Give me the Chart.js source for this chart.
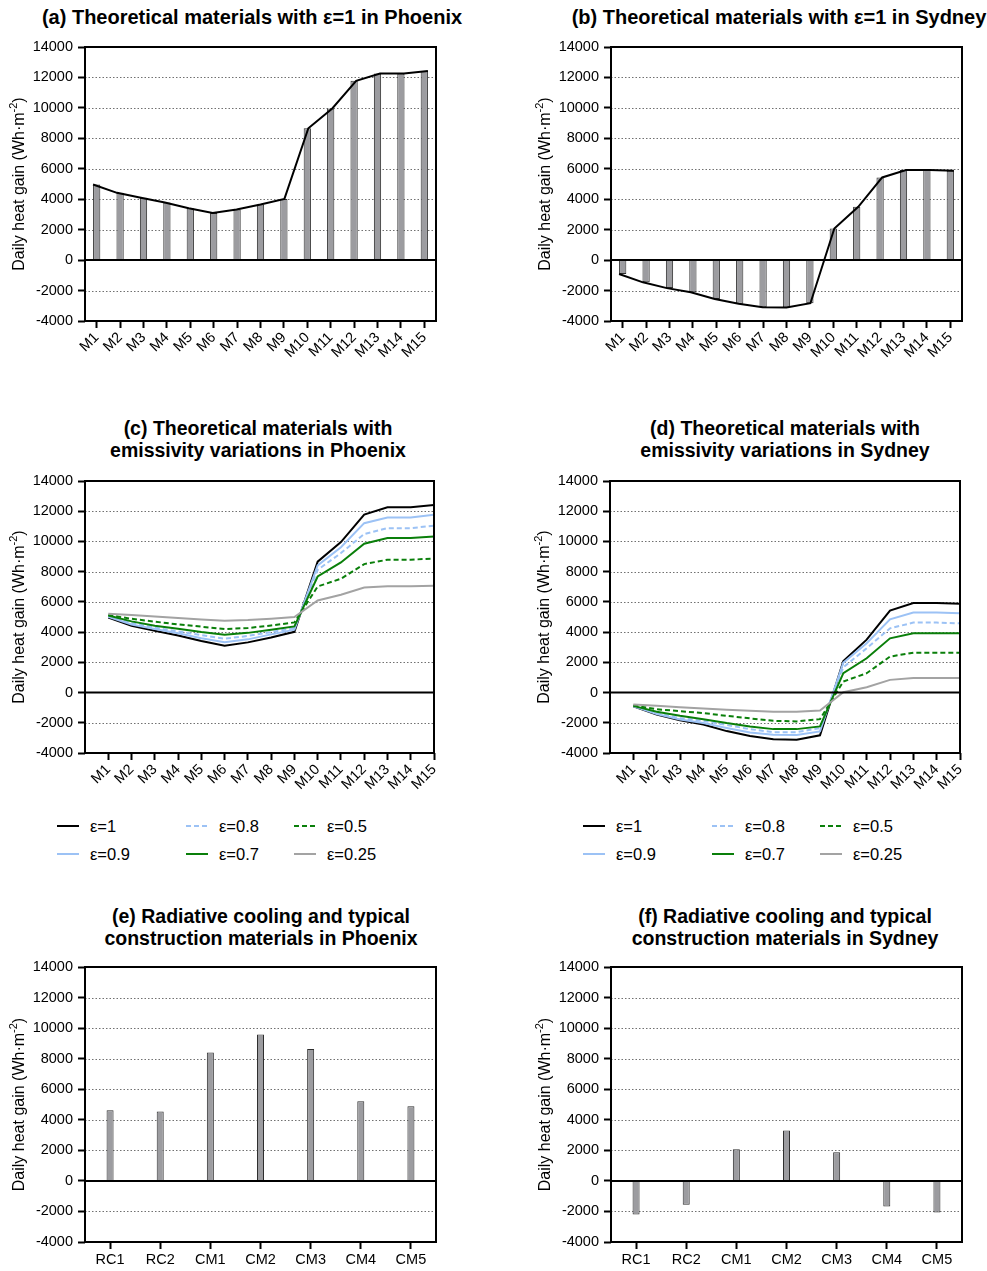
<!DOCTYPE html>
<html>
<head>
<meta charset="utf-8">
<script src="https://cdn.jsdelivr.net/npm/chart.js@4.4.1/dist/chart.umd.min.js"></script>
<style>
  body { margin: 0; background: #fff; }
  #page { position: relative; width: 987px; height: 1271px; overflow: hidden;
          font-family: "Liberation Sans", Arial, Helvetica, sans-serif; color: #000; }
  .title { position: absolute; font-weight: bold; font-size: 19.5px; line-height: 22px;
           text-align: center; white-space: nowrap; transform: translateX(-50%); }
  .title.big { font-size: 20px; }
  canvas { position: absolute; }
  .legend-item { position: absolute; display: flex; align-items: center; white-space: nowrap;
                 font-size: 16.5px; height: 18px; }
  .legend-item svg { margin-right: 11px; }
</style>
</head>
<body>
<div id="page">
  <div class="title big" style="left:252px; top:6px;">(a) Theoretical materials with ε=1 in Phoenix</div>
  <div class="title big" style="left:779px; top:6px;">(b) Theoretical materials with ε=1 in Sydney</div>
  <div class="title" style="left:258px; top:417px;">(c) Theoretical materials with<br>emissivity variations in Phoenix</div>
  <div class="title" style="left:785px; top:417px;">(d) Theoretical materials with<br>emissivity variations in Sydney</div>
  <div class="title" style="left:261px; top:905px;">(e) Radiative cooling and typical<br>construction materials in Phoenix</div>
  <div class="title" style="left:785px; top:905px;">(f) Radiative cooling and typical<br>construction materials in Sydney</div>

  <canvas id="chartA" width="470" height="335" style="left:0px; top:35px;"></canvas>
  <canvas id="chartB" width="461" height="335" style="left:526px; top:35px;"></canvas>
  <canvas id="chartC" width="470" height="331" style="left:0px; top:469px;"></canvas>
  <canvas id="chartD" width="462" height="331" style="left:525px; top:469px;"></canvas>
  <canvas id="chartE" width="470" height="316" style="left:0px; top:955px;"></canvas>
  <canvas id="chartF" width="461" height="316" style="left:526px; top:955px;"></canvas>

  <div id="legendC"></div>
  <div id="legendD"></div>
</div>

<script>
// ---- categories and tick values ----
const months = ['M1','M2','M3','M4','M5','M6','M7','M8','M9','M10','M11','M12','M13','M14','M15'];
const materials = ['RC1','RC2','CM1','CM2','CM3','CM4','CM5'];
const yTickValues = [-4000, -2000, 0, 2000, 4000, 6000, 8000, 10000, 12000, 14000];
const emissivityLabels = ['ε=1', 'ε=0.9', 'ε=0.8', 'ε=0.7', 'ε=0.5', 'ε=0.25'];

// ---- daily heat gain, Phoenix (Wh·m-2) ----
const phoenixE100 = [4970, 4420, 4090, 3780, 3410, 3100, 3320, 3650, 4020, 8660, 9960, 11780, 12260, 12260, 12420];
const phoenixE090 = [5020, 4500, 4200, 3920, 3600, 3330, 3520, 3850, 4160, 8410, 9620, 11210, 11590, 11590, 11770];
const phoenixE080 = [5050, 4600, 4300, 4050, 3800, 3560, 3750, 4000, 4270, 8120, 9230, 10490, 10880, 10880, 11040];
const phoenixE070 = [5100, 4710, 4420, 4220, 4000, 3820, 3950, 4150, 4380, 7680, 8610, 9850, 10220, 10220, 10330];
const phoenixE050 = [5130, 4880, 4690, 4510, 4360, 4200, 4270, 4440, 4640, 7020, 7530, 8500, 8790, 8790, 8870];
const phoenixE025 = [5220, 5130, 5040, 4930, 4840, 4760, 4800, 4890, 5000, 6090, 6470, 6950, 7040, 7040, 7060];

// ---- daily heat gain, Sydney (Wh·m-2) ----
const sydneyE100 = [-910, -1460, -1840, -2110, -2550, -2870, -3090, -3120, -2830, 2080, 3500, 5430, 5920, 5920, 5870];
const sydneyE090 = [-900, -1420, -1780, -2010, -2340, -2640, -2790, -2810, -2570, 1980, 3260, 4850, 5290, 5290, 5240];
const sydneyE080 = [-890, -1360, -1690, -1870, -2150, -2420, -2620, -2620, -2350, 1670, 2930, 4250, 4630, 4630, 4580];
const sydneyE070 = [-880, -1270, -1540, -1760, -2020, -2240, -2420, -2420, -2240, 1280, 2270, 3590, 3920, 3920, 3920];
const sydneyE050 = [-860, -1100, -1230, -1360, -1540, -1710, -1870, -1910, -1760, 730, 1280, 2380, 2640, 2640, 2640];
const sydneyE025 = [-790, -880, -970, -1050, -1140, -1210, -1270, -1270, -1190, 20, 350, 840, 970, 970, 970];

// ---- radiative cooling and construction materials ----
const phoenixMaterials = [4620, 4550, 8400, 9580, 8640, 5210, 4880];
const sydneyMaterials = [-2200, -1560, 2070, 3300, 1870, -1670, -2070];

// ---- styling ----
const FONT = '"Liberation Sans", Arial, Helvetica, sans-serif';
Chart.defaults.font.family = FONT;
Chart.defaults.font.size = 14.5;
Chart.defaults.color = '#000';

const seriesStyles = [
  { color: '#000000', dash: [] },
  { color: '#9cc2f5', dash: [] },
  { color: '#9cc2f5', dash: [5, 3] },
  { color: '#0a7f0a', dash: [] },
  { color: '#0a7f0a', dash: [5, 3] },
  { color: '#a3a3a3', dash: [] }
];
const BAR_FILL = '#9c9ca0';
const BAR_EDGE = '#2e2e2e';

// dotted grid, solid zero line and box frame around the plot area
const framePlugin = {
  id: 'frame',
  beforeDatasetsDraw(chart) {
    const { ctx, chartArea: a, scales: { y } } = chart;
    ctx.save();
    ctx.strokeStyle = '#707070';
    ctx.lineWidth = 1;
    ctx.setLineDash([1.5, 2]);
    y.ticks.forEach(t => {
      if (t.value === 0 || t.value === y.min || t.value === y.max) return;
      const py = Math.round(y.getPixelForValue(t.value)) + 0.5;
      ctx.beginPath();
      ctx.moveTo(a.left, py);
      ctx.lineTo(a.right, py);
      ctx.stroke();
    });
    ctx.restore();
  },
  afterDatasetsDraw(chart) {
    const { ctx, chartArea: a, scales: { y } } = chart;
    ctx.save();
    ctx.strokeStyle = '#000';
    ctx.lineWidth = 2;
    const z = y.getPixelForValue(0);
    ctx.beginPath();
    ctx.moveTo(a.left, z);
    ctx.lineTo(a.right, z);
    ctx.stroke();
    ctx.strokeRect(a.left, a.top, a.right - a.left, a.bottom - a.top);
    ctx.restore();
  }
};

// rotated y-axis title with a superscript unit exponent
const yTitlePlugin = {
  id: 'yTitle',
  afterDraw(chart, args, opts) {
    const { ctx, chartArea: a } = chart;
    const cx = a.left - opts.offset;
    const cy = (a.top + a.bottom) / 2;
    const mainFont = `${opts.size}px ${FONT}`;
    const supFont = `${opts.supSize}px ${FONT}`;
    ctx.save();
    ctx.translate(cx, cy);
    ctx.rotate(-Math.PI / 2);
    ctx.fillStyle = '#000';
    ctx.textBaseline = 'middle';
    ctx.textAlign = 'left';
    ctx.font = mainFont;
    const w1 = ctx.measureText(opts.text).width;
    const w3 = ctx.measureText(opts.after).width;
    ctx.font = supFont;
    const w2 = ctx.measureText(opts.sup).width;
    let x = -(w1 + w2 + w3) / 2;
    ctx.font = mainFont;
    ctx.fillText(opts.text, x, 0);
    x += w1;
    ctx.font = supFont;
    ctx.fillText(opts.sup, x, -opts.raise);
    x += w2;
    ctx.font = mainFont;
    ctx.fillText(opts.after, x, 0);
    ctx.restore();
  }
};

const tickGrid = {
  display: true, drawOnChartArea: false, drawTicks: true,
  tickLength: 7, tickColor: '#000', tickWidth: 2, offset: false
};

function yScale(axisWidth) {
  return {
    type: 'linear',
    min: yTickValues[0],
    max: yTickValues[yTickValues.length - 1],
    afterBuildTicks: s => { s.ticks = yTickValues.map(v => ({ value: v })); },
    afterFit: s => { s.width = axisWidth; s.paddingTop = 0; s.paddingBottom = 0; },
    ticks: { padding: 5, color: '#000', callback: v => String(v) },
    grid: tickGrid,
    border: { display: false }
  };
}

function xFit(height) {
  return s => { s.height = height; s.paddingLeft = 0; s.paddingRight = 0; };
}

function baseOptions(pad, scales) {
  return {
    responsive: false,
    maintainAspectRatio: false,
    animation: false,
    events: [],
    layout: { padding: { left: 0, top: pad.top, right: pad.right, bottom: 0 } },
    plugins: {
      legend: { display: false },
      tooltip: { enabled: false },
      title: { display: false },
      yTitle: { text: 'Daily heat gain (Wh·m', sup: '-2', after: ')', size: 16, supSize: 11, raise: 6, offset: 65 }
    },
    scales
  };
}

// bar chart of monthly values with a connecting line over the bar tops
function monthBarChart(id, values, pad, xHeight) {
  const barFrac = 0.31;
  const n = values.length;
  const k = (n - 1) / (n - 1 + barFrac);
  const lineMin = (-0.5 + barFrac / 2) * k;
  const lineMax = (n - 0.5 + barFrac / 2) * k;
  return new Chart(document.getElementById(id), {
    type: 'bar',
    data: {
      labels: months,
      datasets: [
        { type: 'bar', data: values, backgroundColor: BAR_FILL, borderColor: BAR_EDGE, borderWidth: 1,
          barPercentage: barFrac, categoryPercentage: 1, grouped: false, order: 1 },
        { type: 'line', data: values.map((v, i) => ({ x: i, y: v })), xAxisID: 'xl',
          borderColor: '#000', borderWidth: 2, pointRadius: 0, tension: 0, fill: false, order: 0 }
      ]
    },
    options: baseOptions(pad, {
      x: {
        type: 'category', offset: true,
        afterFit: xFit(xHeight),
        ticks: { autoSkip: false, minRotation: 45, maxRotation: 45, padding: 1, color: '#000' },
        grid: tickGrid, border: { display: false }
      },
      xl: { type: 'linear', display: false, offset: false, grace: 0, min: lineMin, max: lineMax,
            grid: { offset: false } },
      y: yScale(85)
    }),
    plugins: [framePlugin, yTitlePlugin]
  });
}

// line chart of monthly values for each emissivity
function emissivityChart(id, seriesList, pad, xHeight) {
  return new Chart(document.getElementById(id), {
    type: 'line',
    data: {
      datasets: seriesList.map((vals, i) => ({
        label: emissivityLabels[i],
        data: vals.map((v, j) => ({ x: j, y: v })),
        borderColor: seriesStyles[i].color,
        borderDash: seriesStyles[i].dash,
        borderWidth: 2, pointRadius: 0, tension: 0, fill: false,
        order: seriesList.length - i
      }))
    },
    options: baseOptions(pad, {
      x: {
        type: 'linear', min: -1, max: months.length - 1,
        afterBuildTicks: s => { s.ticks = months.map((_, j) => ({ value: j })); },
        afterFit: xFit(xHeight),
        ticks: { autoSkip: false, minRotation: 45, maxRotation: 45, padding: 1, color: '#000',
                 callback: v => months[v] },
        grid: tickGrid, border: { display: false }
      },
      y: yScale(85)
    }),
    plugins: [framePlugin, yTitlePlugin]
  });
}

// bar chart of material values
function materialChart(id, values, pad, xHeight) {
  return new Chart(document.getElementById(id), {
    type: 'bar',
    data: {
      labels: materials,
      datasets: [{ data: values, backgroundColor: BAR_FILL, borderColor: BAR_EDGE, borderWidth: 1,
                   barPercentage: 0.14, categoryPercentage: 1, grouped: false }]
    },
    options: baseOptions(pad, {
      x: {
        type: 'category', offset: true,
        afterFit: xFit(xHeight),
        ticks: { autoSkip: false, maxRotation: 0, minRotation: 0, padding: 2, color: '#000' },
        grid: tickGrid, border: { display: false }
      },
      y: yScale(85)
    }),
    plugins: [framePlugin, yTitlePlugin]
  });
}

// legend laid out in three columns of two entries
function buildLegend(containerId, left, top) {
  const el = document.getElementById(containerId);
  const colOffsets = [0, 129, 237];
  const rowOffsets = [0, 28];
  emissivityLabels.forEach((label, i) => {
    const st = seriesStyles[i];
    const item = document.createElement('div');
    item.className = 'legend-item';
    item.style.left = (left + colOffsets[Math.floor(i / 2)]) + 'px';
    item.style.top = (top + rowOffsets[i % 2]) + 'px';
    const dash = st.dash.length ? ` stroke-dasharray="${st.dash.join(' ')}"` : '';
    item.innerHTML = `<svg width="22" height="4"><line x1="0" y1="2" x2="22" y2="2" stroke="${st.color}" stroke-width="2"${dash}/></svg><span>${label}</span>`;
    el.appendChild(item);
  });
}

monthBarChart('chartA', phoenixE100, { top: 12, right: 34 }, 49);
monthBarChart('chartB', sydneyE100, { top: 12, right: 25 }, 49);
emissivityChart('chartC', [phoenixE100, phoenixE090, phoenixE080, phoenixE070, phoenixE050, phoenixE025], { top: 12, right: 36 }, 47);
emissivityChart('chartD', [sydneyE100, sydneyE090, sydneyE080, sydneyE070, sydneyE050, sydneyE025], { top: 12, right: 27 }, 47);
materialChart('chartE', phoenixMaterials, { top: 12, right: 34 }, 29);
materialChart('chartF', sydneyMaterials, { top: 12, right: 25 }, 29);
buildLegend('legendC', 57, 817);
buildLegend('legendD', 583, 817);
</script>
</body>
</html>
